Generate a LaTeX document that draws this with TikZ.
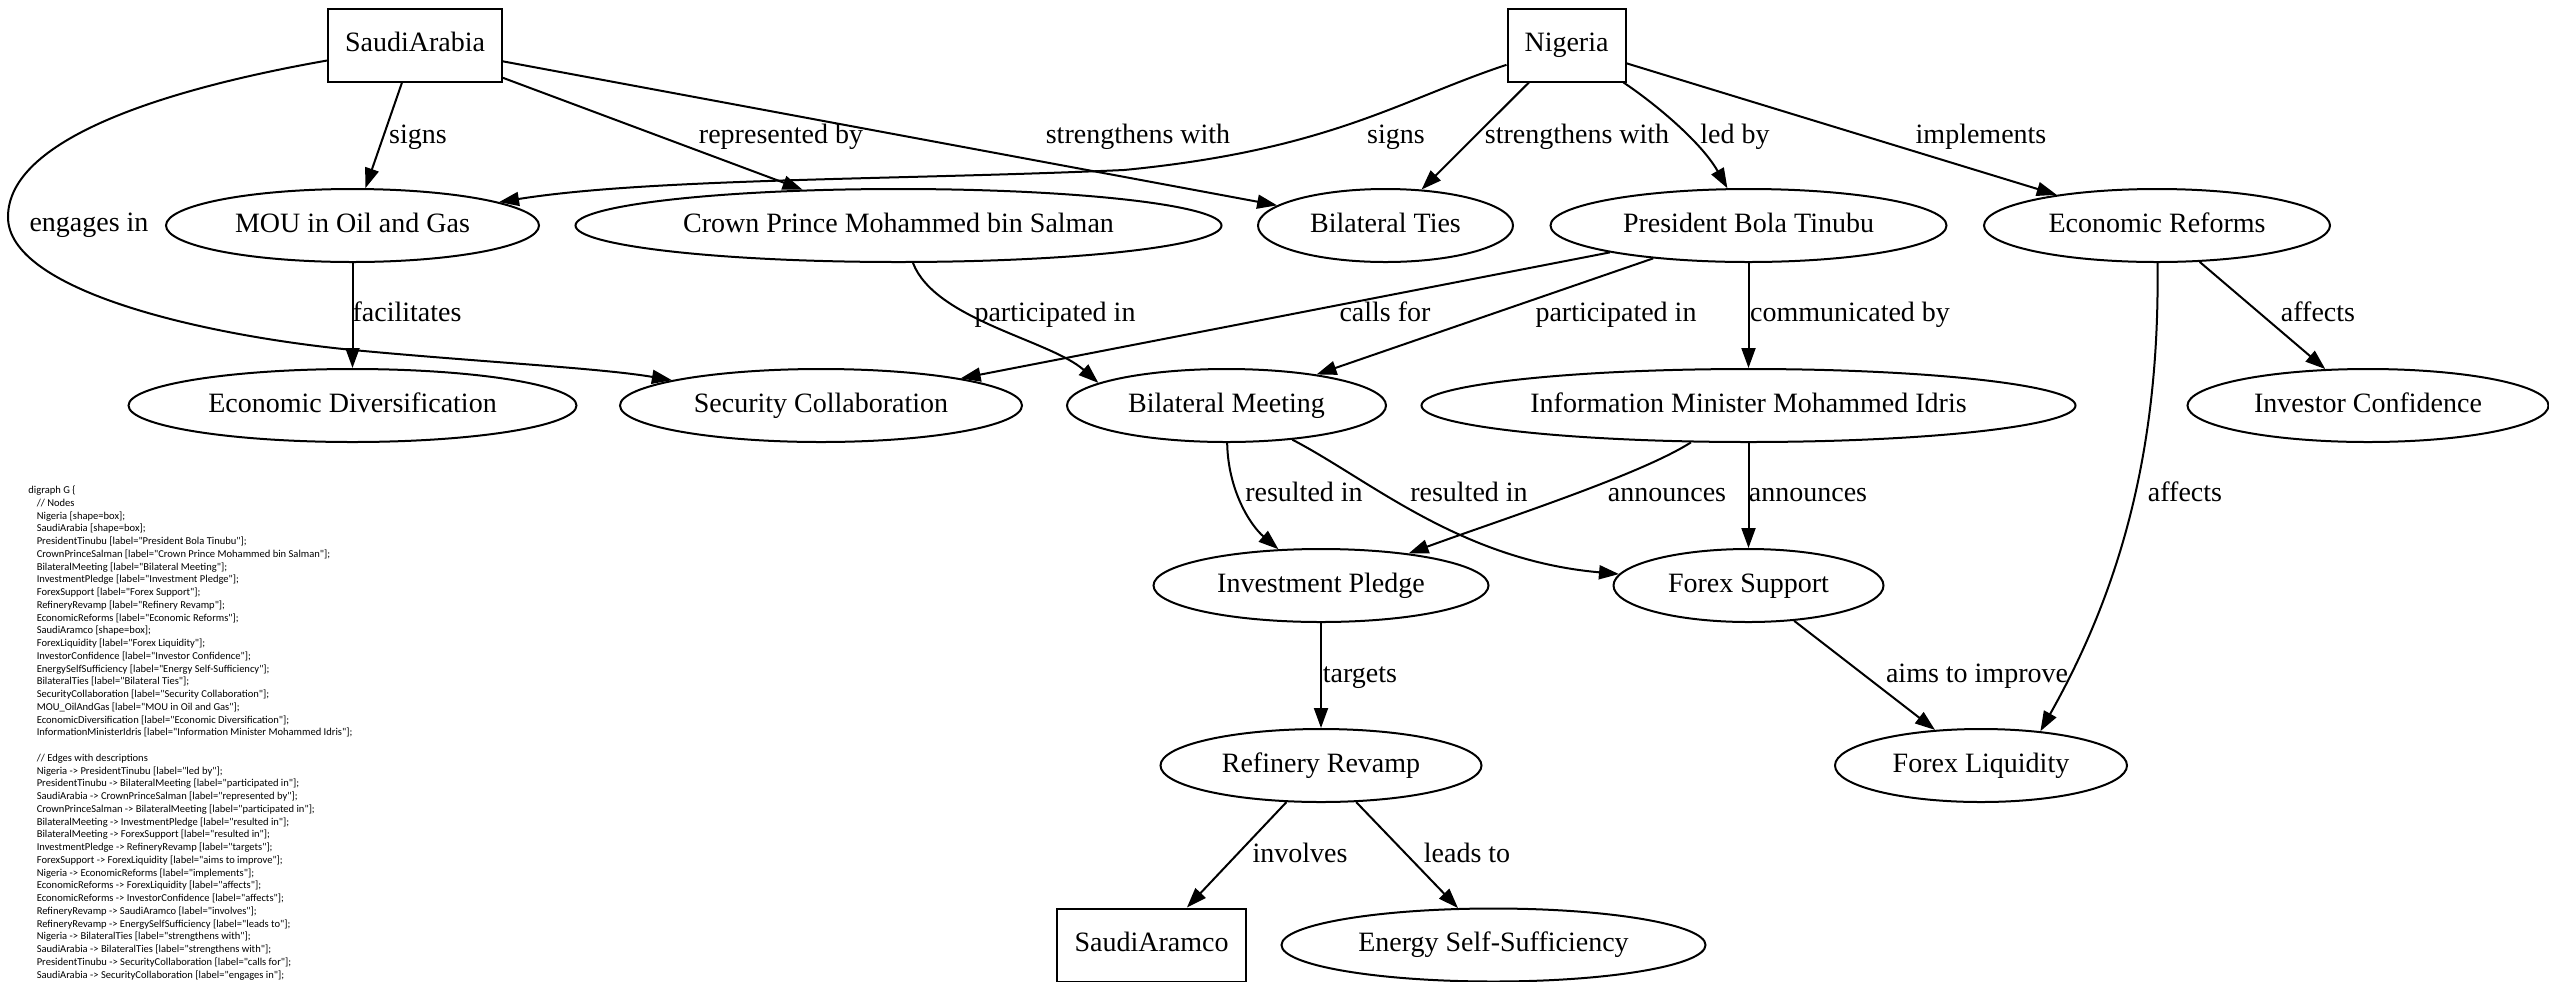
\documentclass[tikz,border=0pt]{standalone}
\usepackage{fontspec}
\setmainfont{Liberation Serif}
\newfontfamily\codefont{Carlito}
\usetikzlibrary{shapes.geometric,arrows.meta}
\newcommand{\codeindent}{\hspace*{4.2pt}}
\begin{document}
\begin{tikzpicture}[x=0.5pt,y=-0.5pt,
  lab/.style={inner sep=0pt, font=\fontsize{14}{16.8}\selectfont, text height=9.5pt, text depth=3pt},
  oval/.style={lab, draw, ellipse, line width=1pt, minimum height=36.5pt},
  boxnode/.style={lab, draw, rectangle, line width=1pt, minimum height=36.5pt},
  link/.style={line width=1pt, -{Triangle[length=10pt,width=7pt]}}]
\useasboundingbox (0,0) rectangle (2549,981);

% entities
\node[boxnode, minimum width=87pt] (SA) at (415,45) {SaudiArabia};
\node[boxnode, minimum width=59pt] (NG) at (1566.5,45) {Nigeria};
\node[oval, minimum width=186.5pt] (MOU) at (352.5,225.5) {MOU in Oil and Gas};
\node[oval, minimum width=323pt] (CP) at (898.5,225.5) {Crown Prince Mohammed bin Salman};
\node[oval, minimum width=127.5pt] (BT) at (1385.5,225.5) {Bilateral Ties};
\node[oval, minimum width=198pt] (PT) at (1748.5,225.5) {President Bola Tinubu};
\node[oval, minimum width=173pt] (ER) at (2157,225.5) {Economic Reforms};
\node[oval, minimum width=224pt] (ED) at (352.5,405.5) {Economic Diversification};
\node[oval, minimum width=201pt] (SC) at (821,405.5) {Security Collaboration};
\node[oval, minimum width=159.5pt] (BM) at (1226.5,405.5) {Bilateral Meeting};
\node[oval, minimum width=327pt] (IM) at (1748.5,405.5) {Information Minister Mohammed Idris};
\node[oval, minimum width=180.5pt] (IC) at (2368,405.5) {Investor Confidence};
\node[oval, minimum width=167.5pt] (IP) at (1321,585.5) {Investment Pledge};
\node[oval, minimum width=135pt] (FS) at (1748.5,585.5) {Forex Support};
\node[oval, minimum width=160.5pt] (RR) at (1321,765.5) {Refinery Revamp};
\node[oval, minimum width=146pt] (FL) at (1981,765.5) {Forex Liquidity};
\node[boxnode, minimum width=94.5pt] (SAR) at (1151.5,945) {SaudiAramco};
\node[oval, minimum width=212pt] (ES) at (1493.5,945) {Energy Self-Sufficiency};

% relations
\draw[link] (SA) -- (MOU);
\draw[link] (SA) -- (CP);
\draw[link] (SA) -- (BT);
\draw[link] (SA) .. controls (160,90) and (8,140) .. (8,217)
  .. controls (8,290) and (200,335) .. (353,350)
  .. controls (480,362) and (600,368) .. (SC);
\draw[link] (NG) .. controls (1400,100) and (1330,150) .. (1124,170)
  .. controls (900,180) and (650,178) .. (MOU);
\draw[link] (NG) -- (BT);
\draw[link] (NG) .. controls (1650,100) and (1700,140) .. (PT);
\draw[link] (NG) -- (ER);
\draw[link] (MOU) -- (ED);
\draw[link] (CP) .. controls (935,320) and (1050,340) .. (BM.170);
\draw[link] (PT) -- (SC);
\draw[link] (PT) -- (BM);
\draw[link] (PT) -- (IM);
\draw[link] (ER) -- (IC);
\draw[link] (ER) .. controls (2160,450) and (2120,590) .. (FL.30);
\draw[link] (BM) .. controls (1228,490) and (1250,525) .. (IP);
\draw[link] (BM) .. controls (1370,480) and (1460,560) .. (FS);
\draw[link] (IM) .. controls (1640,475) and (1500,520) .. (IP);
\draw[link] (IM) -- (FS);
\draw[link] (IP) -- (RR);
\draw[link] (FS) -- (FL);
\draw[link] (RR) -- (SAR);
\draw[link] (RR) -- (ES);

% relation labels
\node[lab] (lsigns1) at (418,137) {signs};
\node[lab] (lrep) at (781,137) {represented by};
\node[lab] (lstr1) at (1138,137) {strengthens with};
\node[lab] (lsigns2) at (1396,137) {signs};
\node[lab] (lstr2) at (1577,137) {strengthens with};
\node[lab] (lled) at (1735,137) {led by};
\node[lab] (limpl) at (1981,137) {implements};
\node[lab] (leng) at (89,225) {engages in};
\node[lab] (lfac) at (407,315) {facilitates};
\node[lab] (lpart1) at (1055,315) {participated in};
\node[lab] (lcalls) at (1385,315) {calls for};
\node[lab] (lpart2) at (1616,315) {participated in};
\node[lab] (lcomm) at (1850,315) {communicated by};
\node[lab] (laff1) at (2318,315) {affects};
\node[lab] (lres1) at (1304,495) {resulted in};
\node[lab] (lres2) at (1469,495) {resulted in};
\node[lab] (lann1) at (1667,495) {announces};
\node[lab] (lann2) at (1808,495) {announces};
\node[lab] (laff2) at (2185,495) {affects};
\node[lab] (ltgt) at (1360,676) {targets};
\node[lab] (laims) at (1977,676) {aims to improve};
\node[lab] (linv) at (1300,856) {involves};
\node[lab] (lleads) at (1467,856) {leads to};

% source listing (anchored at the baseline of its last line)
\node[anchor=base west, inner sep=0pt, align=left,
      font=\codefont\fontsize{5.27}{6.375}\selectfont] (code) at (28,978) {%
digraph G \{\\
\codeindent// Nodes\\
\codeindent Nigeria [shape=box];\\
\codeindent SaudiArabia [shape=box];\\
\codeindent PresidentTinubu [label="President Bola Tinubu"];\\
\codeindent CrownPrinceSalman [label="Crown Prince Mohammed bin Salman"];\\
\codeindent BilateralMeeting [label="Bilateral Meeting"];\\
\codeindent InvestmentPledge [label="Investment Pledge"];\\
\codeindent ForexSupport [label="Forex Support"];\\
\codeindent RefineryRevamp [label="Refinery Revamp"];\\
\codeindent EconomicReforms [label="Economic Reforms"];\\
\codeindent SaudiAramco [shape=box];\\
\codeindent ForexLiquidity [label="Forex Liquidity"];\\
\codeindent InvestorConfidence [label="Investor Confidence"];\\
\codeindent EnergySelfSufficiency [label="Energy Self-Sufficiency"];\\
\codeindent BilateralTies [label="Bilateral Ties"];\\
\codeindent SecurityCollaboration [label="Security Collaboration"];\\
\codeindent MOU\_OilAndGas [label="MOU in Oil and Gas"];\\
\codeindent EconomicDiversification [label="Economic Diversification"];\\
\codeindent InformationMinisterIdris [label="Information Minister Mohammed Idris"];\\[6.375pt]
\codeindent// Edges with descriptions\\
\codeindent Nigeria -> PresidentTinubu [label="led by"];\\
\codeindent PresidentTinubu -> BilateralMeeting [label="participated in"];\\
\codeindent SaudiArabia -> CrownPrinceSalman [label="represented by"];\\
\codeindent CrownPrinceSalman -> BilateralMeeting [label="participated in"];\\
\codeindent BilateralMeeting -> InvestmentPledge [label="resulted in"];\\
\codeindent BilateralMeeting -> ForexSupport [label="resulted in"];\\
\codeindent InvestmentPledge -> RefineryRevamp [label="targets"];\\
\codeindent ForexSupport -> ForexLiquidity [label="aims to improve"];\\
\codeindent Nigeria -> EconomicReforms [label="implements"];\\
\codeindent EconomicReforms -> ForexLiquidity [label="affects"];\\
\codeindent EconomicReforms -> InvestorConfidence [label="affects"];\\
\codeindent RefineryRevamp -> SaudiAramco [label="involves"];\\
\codeindent RefineryRevamp -> EnergySelfSufficiency [label="leads to"];\\
\codeindent Nigeria -> BilateralTies [label="strengthens with"];\\
\codeindent SaudiArabia -> BilateralTies [label="strengthens with"];\\
\codeindent PresidentTinubu -> SecurityCollaboration [label="calls for"];\\
\codeindent SaudiArabia -> SecurityCollaboration [label="engages in"];};
\end{tikzpicture}
\end{document}
